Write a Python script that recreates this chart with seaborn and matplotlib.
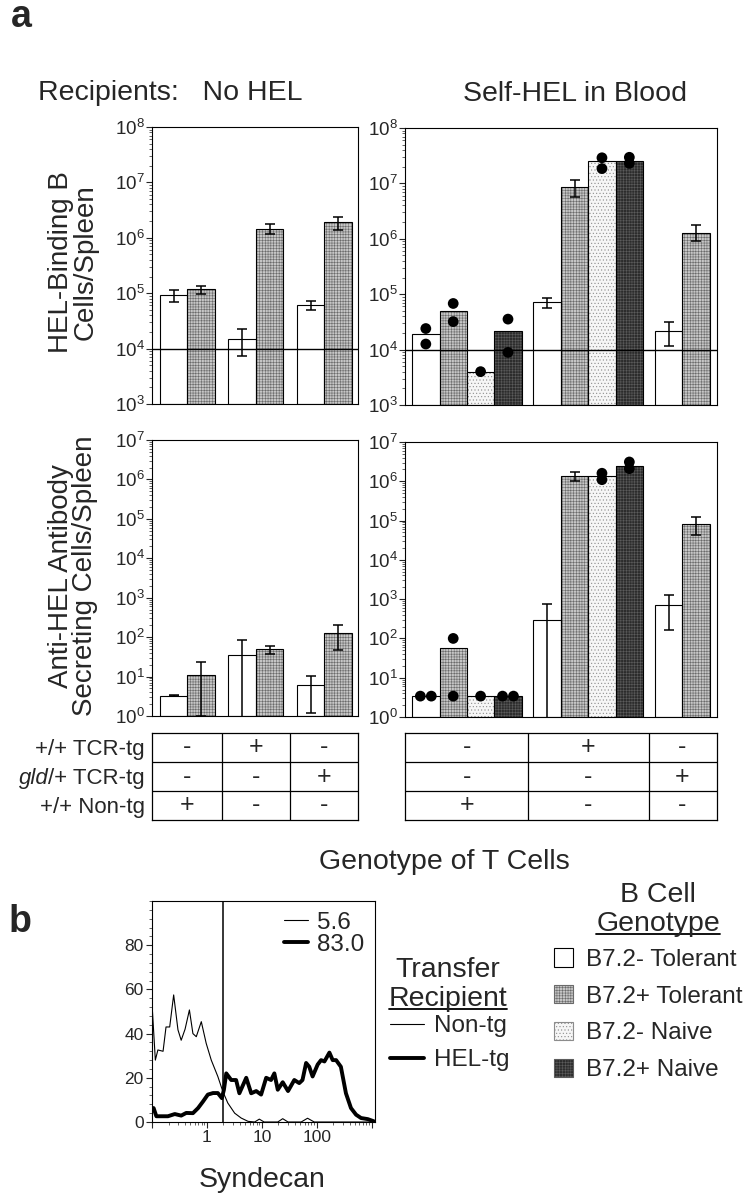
import numpy as np
import matplotlib.pyplot as plt
import seaborn as sns
from matplotlib import ticker
from matplotlib.patches import Patch
from matplotlib.lines import Line2D

sns.set_style('ticks')
plt.rcParams['font.family'] = ['Liberation Sans', 'DejaVu Sans']
plt.rcParams['mathtext.fontset'] = 'custom'
plt.rcParams['mathtext.rm'] = 'Liberation Sans'
plt.rcParams['mathtext.it'] = 'Liberation Sans:italic'
plt.rcParams['hatch.linewidth'] = 0.4

# ---- data ----
genotypes = ['B7.2- Tolerant', 'B7.2+ Tolerant', 'B7.2- Naive', 'B7.2+ Naive']

# recipients: no HEL  (3 T cell groups x 2 B cell genotypes)
nohel_geno = ['B7.2- Tolerant', 'B7.2+ Tolerant'] * 3
nohel_bcells = [9.2e4, 1.17e5, 1.47e4, 1.47e6, 6.1e4, 1.94e6]
nohel_bcells_lo = [7.0e4, 9.6e4, 7.3e3, 1.15e6, 4.9e4, 1.4e6]
nohel_bcells_hi = [1.14e5, 1.36e5, 2.25e4, 1.75e6, 7.3e4, 2.4e6]
nohel_afc = [3.3, 11, 35, 49, 6.1, 130]
nohel_afc_lo = [3.2, 1.0, 0.5, 37, 1.2, 47]
nohel_afc_hi = [3.4, 24, 85, 61, 10.5, 203]

# recipients: self-HEL in blood
selfhel_geno = genotypes + genotypes + ['B7.2- Tolerant', 'B7.2+ Tolerant']
selfhel_bcells = [1.88e4, 4.9e4, 4.0e3, 2.16e4, 7.3e4, 8.6e6, 2.54e7, 2.54e7, 2.16e4, 1.28e6]
selfhel_bcells_lo = [np.nan] * 4 + [5.7e4, 5.7e6, np.nan, np.nan, 1.17e4, 9.2e5]
selfhel_bcells_hi = [np.nan] * 4 + [8.6e4, 1.14e7, np.nan, np.nan, 3.2e4, 1.74e6]
selfhel_bcells_dot_bar = [0, 0, 1, 1, 2, 3, 3, 6, 6, 7, 7]
selfhel_bcells_dot_val = [2.4e4, 1.26e4, 6.8e4, 3.2e4, 4.0e3, 3.55e4, 8.9e3, 2.9e7, 1.85e7, 2.96e7, 2.3e7]
selfhel_afc = [3.4, 57, 3.4, 3.4, 290, 1.37e6, 1.35e6, 2.45e6, 720, 8.1e4]
selfhel_afc_lo = [np.nan] * 4 + [0.5, 1.0e6, np.nan, np.nan, 167, 4.3e4]
selfhel_afc_hi = [np.nan] * 4 + [760, 1.73e6, np.nan, np.nan, 1290, 1.2e5]
selfhel_afc_dot_bar = [0, 0, 1, 1, 2, 3, 3, 6, 6, 7, 7]
selfhel_afc_dot_val = [3.4, 3.4, 100, 3.4, 3.4, 3.4, 3.4, 1.6e6, 1.1e6, 3.1e6, 2.1e6]

# T cell genotype table
table_rows = ['+/+ TCR-tg', 'gld/+ TCR-tg', '+/+ Non-tg']
table_rows_italic = ['', 'gld', '']
table_cells = [['-', '+', '-'],
               ['-', '-', '+'],
               ['+', '-', '-']]

# panel b: syndecan histograms
nontg_x = [0.102, 0.115, 0.128, 0.159, 0.18, 0.21, 0.248, 0.297, 0.34, 0.40,
           0.48, 0.556, 0.64, 0.79, 0.97, 1.2, 1.58, 1.95, 2.4, 3.2,
           4.2, 5.6, 7.4, 9.0, 11, 19.5, 24, 30, 52, 68, 90, 1100]
nontg_y = [50, 28, 32.6, 32, 43, 43, 57.5, 41.7, 37, 42,
           50.7, 40, 38.6, 45.4, 35.6, 28, 20.6, 13.8, 8.6, 4,
           1.8, 0.3, 0, 1.3, 0, 0, 1.5, 0, 0, 1.7, 0, 0]
heltg_x = [0.102, 0.107, 0.12, 0.148, 0.195, 0.26, 0.34, 0.42, 0.556, 0.69,
           0.85, 1.04, 1.29, 1.58, 1.87, 2.04, 2.25, 2.77, 3.4, 3.9,
           5.2, 6.4, 7.9, 9.7, 12, 14.7, 16.9, 19.5, 24, 30,
           39, 48, 55, 64, 73, 84, 104, 120, 138, 170,
           195, 225, 275, 340, 420, 520, 640, 850, 1100]
heltg_y = [6.3, 6.3, 2.6, 2.6, 2.6, 3.6, 2.9, 4.1, 4, 6.3,
           9.3, 12.4, 13.1, 13.1, 10.8, 14.6, 22, 19, 19, 13,
           20, 13, 14, 12.4, 20, 19, 22, 14.6, 18, 14,
           19, 17.6, 19, 26.7, 25, 20.6, 26, 28, 27.4, 31.4,
           28, 28, 25, 13, 6.3, 3.3, 1.8, 1.3, 0.3]
hist_labels = ['5.6', '83.0']
gate = 2.0

# ---- styles ----
styles = {
    'B7.2- Tolerant': dict(fc='white', hatch=None, hc='black'),
    'B7.2+ Tolerant': dict(fc='#c6c6c6', hatch='++++++', hc='#6a6a6a'),
    'B7.2- Naive': dict(fc='#f6f6f6', hatch='.....', hc='#8c8c8c'),
    'B7.2+ Naive': dict(fc='#2c2c2c', hatch='++++++', hc='#5c5c5c'),
}

W, H = 754, 1199
fig = plt.figure(figsize=(W / 100, H / 100), dpi=100)


def fx(x):
    return x / W


def fy(y):
    return 1 - y / H


def px_axes(x0, y0, x1, y1):
    return fig.add_axes([fx(x0), fy(y1), (x1 - x0) / W, (y1 - y0) / H])


def bar_centers(sizes, gap):
    xs, start = [], 0.0
    for n in sizes:
        xs += [start + i + 0.5 for i in range(n)]
        start += n + gap
    return np.array(xs)


def group_centers(sizes, gap):
    xs, start = [], 0.0
    for n in sizes:
        xs.append(start + n / 2)
        start += n + gap
    return xs


def group_dividers(sizes, gap):
    xs, start = [], 0.0
    for n in sizes[:-1]:
        start += n + gap
        xs.append(start - gap / 2)
    return xs


def bar_panel(ax, x, geno, vals, lo, hi, ylim, xlim, dot_bar=None, dot_val=None, hline=None):
    vals = np.array(vals, dtype=float)
    base = ylim[0]
    for xi, g, v in zip(x, geno, vals):
        st = styles[g]
        ax.bar(xi, v - base, bottom=base, width=1, color=st['fc'], edgecolor=st['hc'],
               hatch=st['hatch'], linewidth=0, zorder=2)
        ax.bar(xi, v - base, bottom=base, width=1, fill=False, edgecolor='black',
               linewidth=0.8, zorder=3)
    lo = np.array(lo, dtype=float)
    hi = np.array(hi, dtype=float)
    m = ~np.isnan(lo)
    ax.errorbar(x[m], vals[m], yerr=[vals[m] - lo[m], hi[m] - vals[m]], fmt='none',
                ecolor='black', elinewidth=1.1, capsize=3.5, capthick=1.1, zorder=4)
    if dot_bar is not None:
        dx = np.zeros(len(dot_bar))
        for i in range(len(dot_bar)):
            same = [j for j in range(len(dot_bar)) if dot_bar[j] == dot_bar[i]
                    and abs(np.log10(dot_val[j]) - np.log10(dot_val[i])) < 0.05]
            if len(same) > 1:
                dx[i] = -0.2 if same.index(i) == 0 else 0.2
        sns.scatterplot(x=x[dot_bar] + dx, y=dot_val, ax=ax, color='black', s=60,
                        edgecolor='none', legend=False, zorder=5, clip_on=False)
    if hline is not None:
        ax.axhline(hline, color='black', lw=1.0, zorder=4)
    ax.set_yscale('log')
    ax.set_ylim(ylim)
    ax.set_xlim(xlim)
    ax.set_xticks([])
    ax.yaxis.set_major_locator(ticker.LogLocator(base=10, numticks=12))
    ax.yaxis.set_minor_locator(ticker.LogLocator(base=10, subs=np.arange(2, 10), numticks=12))
    ax.yaxis.set_minor_formatter(ticker.NullFormatter())
    ax.tick_params(axis='y', which='major', direction='out', length=4, width=0.8,
                   labelsize=13.5, pad=1)
    ax.tick_params(axis='y', which='minor', direction='out', length=2, width=0.5)
    for s in ax.spines.values():
        s.set_linewidth(0.8)
        s.set_color('black')


def table_panel(ax, centers, dividers, xlim):
    ax.set_xlim(xlim)
    ax.set_ylim(3, 0)
    for d in dividers:
        ax.axvline(d, color='black', lw=0.9)
    for r in (1, 2):
        ax.axhline(r, color='black', lw=0.9)
    for r, row in enumerate(table_cells):
        for c, s in enumerate(row):
            ax.text(centers[c], r + 0.5, s, ha='center', va='center', fontsize=18)
    ax.set_xticks([])
    ax.set_yticks([])
    for s in ax.spines.values():
        s.set_linewidth(0.9)
        s.set_color('black')


# layout of bars (positions, not data)
left_sizes, left_gap = [2, 2, 2], 0.5
right_sizes, right_gap = [4, 4, 2], 0.43
left_x = bar_centers(left_sizes, left_gap)
right_x = bar_centers(right_sizes, right_gap)
left_xlim = (-0.29, 7.23)
right_xlim = (-0.26, 11.13)

ax_tl = px_axes(152, 127, 358, 404)
ax_tr = px_axes(405, 128, 717, 405)
ax_bl = px_axes(152, 440, 358, 716)
ax_br = px_axes(405, 442, 717, 717)

bar_panel(ax_tl, left_x, nohel_geno, nohel_bcells, nohel_bcells_lo, nohel_bcells_hi,
          (1e3, 1e8), left_xlim, hline=1e4)
bar_panel(ax_tr, right_x, selfhel_geno, selfhel_bcells, selfhel_bcells_lo, selfhel_bcells_hi,
          (1e3, 1e8), right_xlim, selfhel_bcells_dot_bar, selfhel_bcells_dot_val, hline=1e4)
bar_panel(ax_bl, left_x, nohel_geno, nohel_afc, nohel_afc_lo, nohel_afc_hi,
          (1, 1e7), left_xlim)
bar_panel(ax_br, right_x, selfhel_geno, selfhel_afc, selfhel_afc_lo, selfhel_afc_hi,
          (1, 1e7), right_xlim, selfhel_afc_dot_bar, selfhel_afc_dot_val)

# tables
tab_l = px_axes(152, 733, 358, 820)
tab_r = px_axes(405, 733, 717, 820)
table_panel(tab_l, group_centers(left_sizes, left_gap), group_dividers(left_sizes, left_gap), left_xlim)
table_panel(tab_r, group_centers(right_sizes, right_gap), group_dividers(right_sizes, right_gap), right_xlim)
row_texts = []
for i, (lab, ital) in enumerate(zip(table_rows, table_rows_italic)):
    t = fig.text(fx(145), fy(755 + 29 * i), lab[len(ital):], ha='right', va='baseline', fontsize=16)
    row_texts.append((t, ital, 755 + 29 * i))

# panel a texts
fig.text(fx(11), fy(27), 'a', fontsize=27, fontweight='bold', va='baseline')
fig.text(fx(38), fy(100), 'Recipients:   No HEL', fontsize=20.5, va='baseline')
fig.text(fx(575), fy(101), 'Self-HEL in Blood', fontsize=20.5, va='baseline', ha='center')
fig.text(fx(73), fy(262), 'HEL-Binding B\nCells/Spleen', rotation=90, ha='center', va='center',
         fontsize=20, linespacing=0.95, multialignment='center')
fig.text(fx(73), fy(576), 'Anti-HEL Antibody\nSecreting Cells/Spleen', rotation=90, ha='center',
         va='center', fontsize=20, linespacing=0.95, multialignment='center')
fig.text(fx(444), fy(869), 'Genotype of T Cells', fontsize=20.5, ha='center', va='baseline')

# panel b histogram
fig.text(fx(9), fy(932), 'b', fontsize=27, fontweight='bold', va='baseline')
ax_h = px_axes(152, 901, 375, 1122)
ax_h.axvline(gate, color='black', lw=1.1, zorder=1)
sns.lineplot(x=nontg_x, y=nontg_y, ax=ax_h, color='black', linewidth=0.8, label=hist_labels[0],
             estimator=None, sort=False, zorder=3)
sns.lineplot(x=heltg_x, y=heltg_y, ax=ax_h, color='black', linewidth=2.8, label=hist_labels[1],
             estimator=None, sort=False, zorder=3)
ax_h.set_xscale('log')
ax_h.set_xlim(0.1, 1150)
ax_h.set_ylim(0, 100)
ax_h.xaxis.set_major_locator(ticker.FixedLocator([0.1, 1, 10, 100, 1000]))
ax_h.xaxis.set_major_formatter(ticker.FuncFormatter(
    lambda v, p: {1: '1', 10: '10', 100: '100'}.get(int(round(v)) if v >= 1 else -1, '')))
ax_h.xaxis.set_minor_locator(ticker.LogLocator(base=10, subs=np.arange(2, 10), numticks=12))
ax_h.xaxis.set_minor_formatter(ticker.NullFormatter())
ax_h.yaxis.set_major_locator(ticker.FixedLocator([0, 20, 40, 60, 80]))
ax_h.yaxis.set_minor_locator(ticker.MultipleLocator(4))
ax_h.tick_params(which='major', direction='out', length=4, width=0.8, labelsize=12.5, pad=2)
ax_h.tick_params(which='minor', direction='out', length=2, width=0.5)
for s in ax_h.spines.values():
    s.set_linewidth(0.8)
    s.set_color('black')
ax_h.set_xlabel('')
ax_h.set_ylabel('')
ax_h.legend(loc='upper right', frameon=False, fontsize=17.5, handlelength=1.0,
            handletextpad=0.35, labelspacing=0.0, borderaxespad=0.05)
fig.text(fx(262), fy(1187), 'Syndecan', fontsize=20.5, ha='center', va='baseline')

# transfer recipient legend
fig.text(fx(448), fy(977), 'Transfer', fontsize=20.5, ha='center', va='baseline')
t_rec = fig.text(fx(448), fy(1006), 'Recipient', fontsize=20.5, ha='center', va='baseline')
fig.legend(handles=[Line2D([], [], color='black', lw=0.8), Line2D([], [], color='black', lw=2.8)],
           labels=['Non-tg', 'HEL-tg'], loc='upper left', bbox_to_anchor=(fx(390), fy(1015)),
           frameon=False, fontsize=17.5, handlelength=1.4, handletextpad=0.4,
           labelspacing=0.5, borderpad=0, borderaxespad=0)

# B cell genotype legend
fig.text(fx(658), fy(902), 'B Cell', fontsize=20.5, ha='center', va='baseline')
t_gen = fig.text(fx(658), fy(931), 'Genotype', fontsize=20.5, ha='center', va='baseline')
patches = [Patch(facecolor=styles[g]['fc'], edgecolor=styles[g]['hc'], hatch=styles[g]['hatch'],
                 linewidth=0.8) for g in genotypes]
fig.legend(handles=patches, labels=genotypes, loc='upper left', bbox_to_anchor=(fx(554), fy(948)),
           frameon=False, fontsize=17.5, handlelength=0.8, handleheight=0.8, handletextpad=0.5,
           labelspacing=0.58, borderpad=0, borderaxespad=0)

# underline the two legend headings, add italic prefix to table row labels
fig.canvas.draw()
for t, base in ((t_rec, 1006), (t_gen, 931)):
    bb = t.get_window_extent()
    fig.add_artist(Line2D([bb.x0 / W, bb.x1 / W], [fy(base + 3)] * 2, transform=fig.transFigure,
                          color='black', lw=1.3))
for t, ital, base in row_texts:
    if ital:
        bb = t.get_window_extent()
        fig.text(bb.x0 / W, fy(base), ital, ha='right', va='baseline', fontsize=16, style='italic')

fig.savefig('out.png', dpi=100)
